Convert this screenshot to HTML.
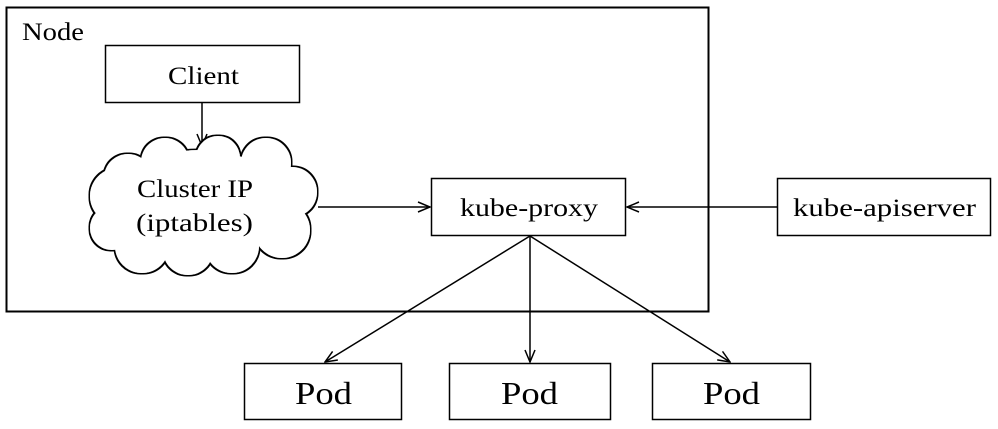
<!DOCTYPE html>
<html><head><meta charset="utf-8"><style>
html,body{margin:0;padding:0;background:#fff;}
svg{display:block;}
text{font-family:"Liberation Serif","DejaVu Serif",serif;fill:#000;}
</style></head><body>
<svg width="998" height="429" viewBox="0 0 998 429" xmlns="http://www.w3.org/2000/svg">
<defs>
<marker id="a" markerWidth="14" markerHeight="12" refX="13" refY="6" orient="auto" markerUnits="userSpaceOnUse">
<path d="M1,1 L13,6 L1,11" fill="none" stroke="#000" stroke-width="1.5"/>
</marker>
<filter id="ol" x="-10%" y="-10%" width="120%" height="120%">
<feMorphology in="SourceAlpha" operator="dilate" radius="1.6" result="d"/>
<feFlood flood-color="#000" result="k"/>
<feComposite in="k" in2="d" operator="in" result="o"/>
<feMerge><feMergeNode in="o"/><feMergeNode in="SourceGraphic"/></feMerge>
</filter>
</defs>
<rect x="6.5" y="7.5" width="702" height="304" fill="none" stroke="#000" stroke-width="2"/>
<text x="22" y="40" font-size="25" textLength="62" lengthAdjust="spacingAndGlyphs">Node</text>
<rect x="105.5" y="45.5" width="194" height="57" fill="#fff" stroke="#000" stroke-width="1.5"/>
<text x="168" y="84" font-size="25" textLength="71" lengthAdjust="spacingAndGlyphs">Client</text>
<line x1="202" y1="102" x2="202" y2="146" stroke="#000" stroke-width="1.5" marker-end="url(#a)"/>
<g fill="#fff" filter="url(#ol)">
<circle cx="118" cy="196" r="28"/><circle cx="112" cy="228" r="22"/><circle cx="142" cy="246" r="27"/>
<circle cx="188" cy="250" r="25"/><circle cx="232" cy="246" r="27"/><circle cx="282" cy="230" r="28"/>
<circle cx="292" cy="192" r="25"/><circle cx="266" cy="163" r="25"/><circle cx="218" cy="158" r="22"/>
<circle cx="165" cy="162" r="24"/><circle cx="128" cy="178" r="24"/><ellipse cx="200" cy="205" rx="85" ry="55"/>
</g>
<text x="137" y="197" font-size="25" textLength="116" lengthAdjust="spacingAndGlyphs">Cluster IP</text>
<text x="136" y="231" font-size="25" textLength="117" lengthAdjust="spacingAndGlyphs">(iptables)</text>
<line x1="318" y1="207" x2="430" y2="207" stroke="#000" stroke-width="1.5" marker-end="url(#a)"/>
<rect x="431.5" y="178.5" width="194" height="57" fill="#fff" stroke="#000" stroke-width="1.5"/>
<text x="460" y="216" font-size="25" textLength="138" lengthAdjust="spacingAndGlyphs">kube-proxy</text>
<rect x="777.5" y="178.5" width="213" height="57" fill="#fff" stroke="#000" stroke-width="1.5"/>
<text x="793" y="216" font-size="25" textLength="183" lengthAdjust="spacingAndGlyphs">kube-apiserver</text>
<line x1="777" y1="207" x2="627" y2="207" stroke="#000" stroke-width="1.5" marker-end="url(#a)"/>
<line x1="530" y1="236" x2="325" y2="362" stroke="#000" stroke-width="1.5" marker-end="url(#a)"/>
<line x1="530" y1="236" x2="530" y2="362" stroke="#000" stroke-width="1.5" marker-end="url(#a)"/>
<line x1="530" y1="236" x2="730" y2="362" stroke="#000" stroke-width="1.5" marker-end="url(#a)"/>
<rect x="244.5" y="363.5" width="157" height="56" fill="#fff" stroke="#000" stroke-width="1.5"/>
<text x="295" y="404" font-size="32" textLength="57" lengthAdjust="spacingAndGlyphs">Pod</text>
<rect x="449.5" y="363.5" width="161" height="56" fill="#fff" stroke="#000" stroke-width="1.5"/>
<text x="501" y="404" font-size="32" textLength="57" lengthAdjust="spacingAndGlyphs">Pod</text>
<rect x="652.5" y="363.5" width="158" height="56" fill="#fff" stroke="#000" stroke-width="1.5"/>
<text x="703" y="404" font-size="32" textLength="57" lengthAdjust="spacingAndGlyphs">Pod</text>
</svg>
</body></html>
